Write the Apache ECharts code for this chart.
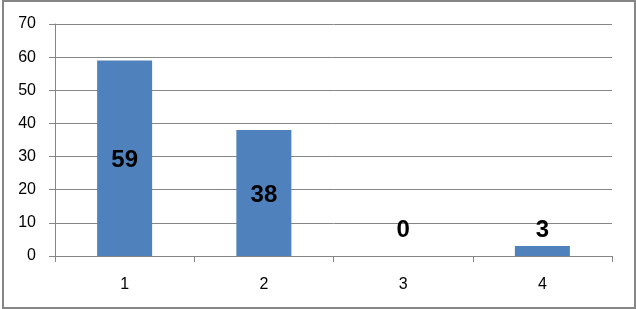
<!DOCTYPE html>
<html><head><meta charset="utf-8">
<script src="https://cdn.jsdelivr.net/npm/echarts@6/dist/echarts.min.js"></script>
<style>html,body{margin:0;padding:0;background:#fff}#c{width:636px;height:309px}</style>
</head><body><div id="c"></div>
<script>
const categories = ['1', '2', '3', '4'];
const values = [59, 38, 0, 3];
const yTicks = [0, 10, 20, 30, 40, 50, 60, 70];

const chart = echarts.init(document.getElementById('c'), null, {renderer: 'canvas'});
const FONT = 'Liberation Sans';
chart.setOption({
  animation: false,
  backgroundColor: '#fff',
  graphic: [{
    type: 'rect', shape: {x: 3, y: 1, width: 632, height: 307},
    style: {fill: 'none', stroke: '#868686', lineWidth: 2}, silent: true, z: 100
  }],
  grid: {left: 55, right: 24, top: 24, bottom: 53},
  xAxis: {
    type: 'category', data: categories,
    axisLine: {lineStyle: {color: '#868686', width: 1}},
    axisTick: {show: true, length: 6, alignWithLabel: false, lineStyle: {color: '#868686'}},
    axisLabel: {color: '#000', fontFamily: FONT, fontSize: 16, margin: 21}
  },
  yAxis: {
    type: 'value', min: yTicks[0], max: yTicks[yTicks.length - 1], interval: 10,
    axisLine: {show: true, lineStyle: {color: '#868686', width: 1}},
    axisTick: {show: true, length: 6, lineStyle: {color: '#868686'}},
    axisLabel: {color: '#000', fontFamily: FONT, fontSize: 16, margin: 19},
    splitLine: {lineStyle: {color: '#868686', width: 1}}
  },
  series: [{
    type: 'bar', barWidth: '39.5%',
    itemStyle: {color: '#4F81BD'},
    data: values.map(function (v) {
      const small = v < 10;
      return {
        value: v,
        label: {
          show: true,
          position: small ? 'top' : 'inside',
          offset: v === 0 ? [0, -9] : (small ? [0, 1] : [0, 2]),
          distance: 5,
          color: '#000', fontFamily: FONT, fontWeight: 'bold', fontSize: 24
        }
      };
    })
  }]
});
</script></body></html>
